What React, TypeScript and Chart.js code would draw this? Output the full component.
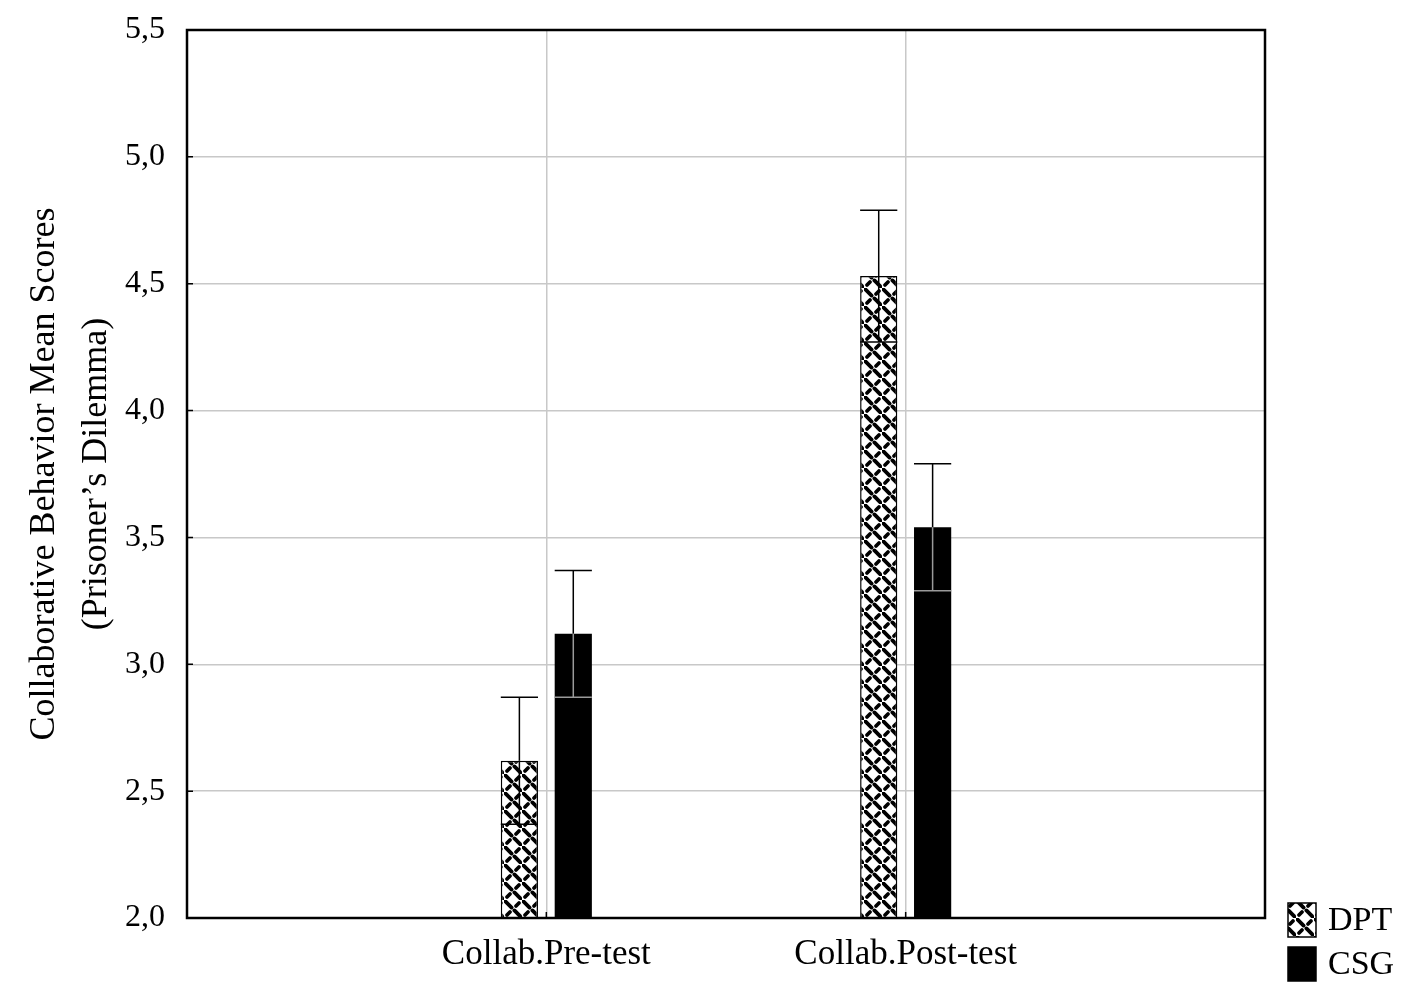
import { useEffect, useRef } from "react";
import { Chart, registerables } from "chart.js";

Chart.register(...registerables);

// category slots: empty slot at each end so the groups sit on the inner grid lines
const categories = ["", "Collab.Pre-test", "Collab.Post-test", ""];
const dptMeans = [null, 2.62, 4.53, null];
const csgMeans = [null, 3.12, 3.54, null];
const dptErr = [0, 0.25, 0.26, 0];
const csgErr = [0, 0.25, 0.25, 0];
const yTicks = [2.0, 2.5, 3.0, 3.5, 4.0, 4.5, 5.0, 5.5];
const legendLabels = ["DPT", "CSG"];

const SERIF = "'Liberation Serif', 'Times New Roman', serif";

// woven fill used for the DPT bars
const makeWeave = (): CanvasPattern | string => {
  const s = 18;
  const c = document.createElement("canvas");
  c.width = s;
  c.height = s;
  const g = c.getContext("2d");
  if (!g) return "#fff";
  g.fillStyle = "#fff";
  g.fillRect(0, 0, s, s);
  g.strokeStyle = "#000";
  g.lineWidth = 3.8;
  g.lineCap = "round";
  const dash = (cx: number, cy: number, dir: number, h: number) => {
    g.beginPath();
    g.moveTo(cx - h, cy + dir * h);
    g.lineTo(cx + h, cy - dir * h);
    g.stroke();
  };
  dash(4.5, 4.5, -1, 3.1);
  dash(13.5, 13.5, -1, 3.1);
  dash(13.5, 4.5, 1, 1.5);
  dash(4.5, 13.5, 1, 1.5);
  return g.createPattern(c, "repeat") ?? "#fff";
};

const App = () => {
  const chartRef = useRef<HTMLCanvasElement>(null);
  const chartInstanceRef = useRef<Chart | null>(null);

  useEffect(() => {
    document.body.style.margin = "0";
    const ctx = chartRef.current?.getContext("2d");
    if (!ctx) return;

    const weave = makeWeave();
    const errs = [dptErr, csgErr];

    // error bars, inward ticks, frame and legend
    const extras = {
      id: "extras",
      afterDatasetsDraw(chart: Chart) {
        const c = chart.ctx;
        const y = chart.scales.y;
        chart.data.datasets.forEach((ds, i) => {
          const meta = chart.getDatasetMeta(i);
          meta.data.forEach((el: any, j: number) => {
            const v = ds.data[j] as number | null;
            if (v == null) return;
            const e = errs[i][j];
            const x = el.x;
            const w = el.width;
            const yTop = y.getPixelForValue(v + e);
            const yBot = y.getPixelForValue(v - e);
            c.save();
            c.lineWidth = 1.5;
            c.strokeStyle = "#000";
            c.beginPath();
            c.moveTo(x, el.y);
            c.lineTo(x, yTop);
            c.moveTo(x - w / 2, yTop);
            c.lineTo(x + w / 2, yTop);
            c.stroke();
            c.strokeStyle = i === 1 ? "#9a9a9a" : "#000";
            c.beginPath();
            c.moveTo(x, el.y);
            c.lineTo(x, yBot);
            c.moveTo(x - w / 2, yBot);
            c.lineTo(x + w / 2, yBot);
            c.stroke();
            c.restore();
          });
        });
      },
      afterDraw(chart: Chart) {
        const c = chart.ctx;
        const { left, right, top, bottom } = chart.chartArea;
        const y = chart.scales.y;
        const x = chart.scales.x;
        c.save();
        c.strokeStyle = "#000";
        c.lineWidth = 1.5;
        c.beginPath();
        yTicks.forEach((t) => {
          const py = y.getPixelForValue(t);
          c.moveTo(left, py);
          c.lineTo(left + 6, py);
        });
        [1, 2].forEach((k) => {
          const px = x.getPixelForValue(k);
          c.moveTo(px, bottom);
          c.lineTo(px, bottom - 6);
        });
        c.stroke();
        c.lineWidth = 2.5;
        c.strokeRect(left, top, right - left, bottom - top);

        // legend
        const bx = right + 23;
        const tops = [bottom - 15, bottom + 29];
        const fills = [weave, "#000"];
        c.font = `34px ${SERIF}`;
        c.textBaseline = "middle";
        c.textAlign = "left";
        legendLabels.forEach((lab, i) => {
          c.fillStyle = fills[i] as any;
          c.fillRect(bx, tops[i], 28, 34);
          c.lineWidth = 1.5;
          c.strokeRect(bx, tops[i], 28, 34);
          c.fillStyle = "#000";
          c.fillText(lab, bx + 40, tops[i] + 18);
        });
        c.restore();
      },
    };

    chartInstanceRef.current = new Chart(ctx, {
      type: "bar",
      data: {
        labels: categories,
        datasets: [
          {
            label: legendLabels[0],
            data: dptMeans,
            backgroundColor: weave as any,
            borderColor: "#000",
            borderWidth: 1.5,
            borderSkipped: false,
          },
          {
            label: legendLabels[1],
            data: csgMeans,
            backgroundColor: "#000",
            borderColor: "#000",
            borderWidth: 0,
          },
        ],
      },
      options: {
        responsive: true,
        maintainAspectRatio: false,
        animation: false,
        layout: { padding: { top: 30, right: 152, left: 0, bottom: 0 } },
        datasets: {
          bar: { categoryPercentage: 0.3, barPercentage: 0.69 },
        },
        plugins: {
          legend: { display: false },
          tooltip: { enabled: false },
        },
        scales: {
          x: {
            offset: false,
            grid: { color: "#c8c8c8", lineWidth: 1.5, drawTicks: false, offset: false },
            border: { display: false },
            ticks: {
              color: "#000",
              padding: 16,
              maxRotation: 0,
              autoSkip: false,
              font: { family: SERIF, size: 35 },
            },
            afterFit: (scale: any) => {
              scale.height = 81;
              scale.paddingLeft = 0;
              scale.paddingRight = 0;
            },
          },
          y: {
            min: 2,
            max: 5.5,
            grid: { color: "#c8c8c8", lineWidth: 1.5, drawTicks: false },
            border: { display: false },
            ticks: {
              stepSize: 0.5,
              color: "#000",
              padding: 22,
              font: { family: SERIF, size: 32 },
              callback: (v: any) => Number(v).toFixed(1).replace(".", ","),
            },
            title: {
              display: true,
              text: ["Collaborative Behavior Mean Scores", "(Prisoner’s Dilemma)"],
              color: "#000",
              font: { family: SERIF, size: 36, lineHeight: 1.45 },
              padding: { top: 18, bottom: 0 },
            },
            afterFit: (scale: any) => {
              scale.width = 187;
              scale.paddingTop = 0;
              scale.paddingBottom = 0;
            },
          },
        },
      },
      plugins: [extras],
    });

    return () => {
      if (chartInstanceRef.current) {
        chartInstanceRef.current.destroy();
        chartInstanceRef.current = null;
      }
    };
  }, []);

  return (
    <div style={{ width: "1417px", height: "999px", position: "relative", background: "#fff" }}>
      <canvas ref={chartRef} />
    </div>
  );
};

export default App;
